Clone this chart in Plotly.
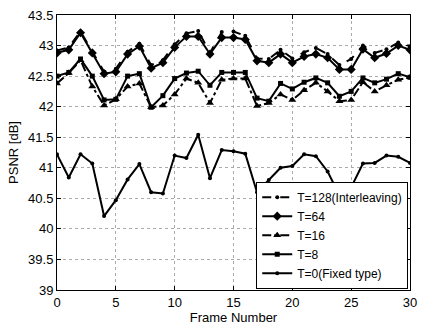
import plotly.graph_objects as go

frames = list(range(31))

t128 = [42.92, 42.97, 43.23, 42.90, 42.57, 42.62, 42.90, 43.03, 42.68, 42.76, 43.02,
        43.20, 43.24, 42.88, 43.22, 43.23, 43.16, 42.79, 42.78, 42.93, 42.79,
        42.89, 42.96, 42.86, 42.68, 42.78, 43.00, 42.88, 42.94, 43.05, 42.99]
t64 = [42.88, 42.93, 43.21, 42.88, 42.54, 42.57, 42.86, 42.99, 42.63, 42.72, 42.97,
       43.15, 43.15, 42.86, 43.13, 43.13, 43.10, 42.75, 42.72, 42.86, 42.72,
       42.82, 42.86, 42.80, 42.61, 42.61, 42.94, 42.80, 42.87, 43.00, 42.93]
t16 = [42.38, 42.55, 42.76, 42.33, 42.02, 42.12, 42.33, 42.38, 41.99, 42.02, 42.20,
       42.46, 42.39, 42.06, 42.44, 42.46, 42.46, 42.01, 42.06, 42.20, 42.11,
       42.27, 42.39, 42.25, 42.09, 42.11, 42.40, 42.25, 42.35, 42.44, 42.48]
t8 = [42.50, 42.56, 42.78, 42.50, 42.11, 42.12, 42.50, 42.54, 41.99, 42.18, 42.46,
      42.55, 42.58, 42.35, 42.56, 42.56, 42.56, 42.14, 42.09, 42.38, 42.29,
      42.40, 42.47, 42.39, 42.17, 42.25, 42.47, 42.39, 42.45, 42.54, 42.48]
t0 = [41.22, 40.84, 41.22, 41.07, 40.21, 40.47, 40.81, 41.06, 40.60, 40.58, 41.20,
      41.16, 41.54, 40.83, 41.29, 41.27, 41.23, 40.60, 40.80, 41.00, 41.03,
      41.22, 41.19, 40.94, 40.55, 40.68, 41.07, 41.08, 41.20, 41.18, 41.08]

ytick_vals = [39, 39.5, 40, 40.5, 41, 41.5, 42, 42.5, 43, 43.5]
ytick_text = ["39", "39.5", "40", "40.5", "41", "41.5", "42", "42.5", "43", "43.5"]
xtick_vals = [0, 5, 10, 15, 20, 25, 30]

series = [
    ("T=128(Interleaving)", t128, "dash", "circle", 4),
    ("T=64", t64, "solid", "diamond", 7),
    ("T=16", t16, "dashdot", "triangle-up", 7),
    ("T=8", t8, "solid", "square", 5),
    ("T=0(Fixed type)", t0, "solid", "circle", 4),
]

fig = go.Figure()
for name, vals, dash, sym, size in series:
    fig.add_trace(go.Scatter(
        x=frames, y=vals, name=name, mode="lines+markers",
        line=dict(color="black", width=2, dash=dash),
        marker=dict(symbol=sym, size=size, color="black"),
    ))

axis_common = dict(
    showline=True, linecolor="black", linewidth=1, mirror="ticks",
    ticks="inside", ticklen=4, tickcolor="black",
    showgrid=True, gridcolor="#aaaaaa", griddash="dot", gridwidth=1,
    zeroline=False, tickfont=dict(size=13, color="black"),
)

fig.update_xaxes(range=[0, 30], tickvals=xtick_vals,
                 title=dict(text="Frame Number", font=dict(size=13, color="black"), standoff=2),
                 **axis_common)
fig.update_yaxes(range=[39, 43.5], tickvals=ytick_vals, ticktext=ytick_text,
                 title=dict(text="PSNR [dB]", font=dict(size=13, color="black"), standoff=6),
                 **axis_common)

fig.update_layout(
    width=425, height=329,
    margin=dict(l=57, r=8, t=10, b=37),
    paper_bgcolor="white", plot_bgcolor="white",
    font=dict(family="Liberation Sans, Arial, sans-serif", size=13, color="black"),
    legend=dict(x=0.995, y=0.005, xanchor="right", yanchor="bottom",
                bgcolor="white", bordercolor="black", borderwidth=1,
                font=dict(size=12), tracegroupgap=0, itemwidth=30),
    showlegend=True,
)

fig.write_html("out.html", config={"displayModeBar": False},
               post_script="document.body.style.margin='0';")
